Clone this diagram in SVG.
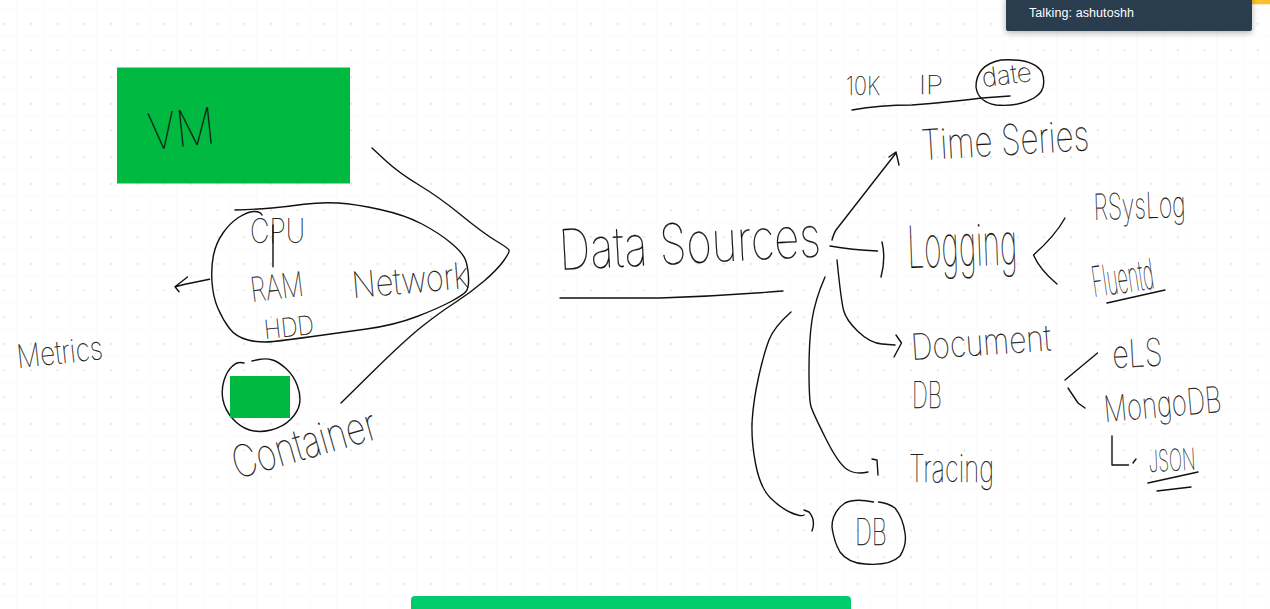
<svg xmlns="http://www.w3.org/2000/svg" width="1270" height="609" viewBox="0 0 1270 609">
<style>
.s{fill:none;stroke:#111;stroke-width:1.4;stroke-linecap:round;stroke-linejoin:round}
.h{font-family:"Inter","Lato","Liberation Sans",sans-serif;font-weight:100;fill:#111;stroke:#111;stroke-width:.25}
.g{fill:#00b941}
</style>
<defs>
<pattern id="dots" x="4.3" y="23.7" width="26.67" height="26.67" patternUnits="userSpaceOnUse">
<rect x="12" y="0" width=".8" height="26.67" fill="#fbfbfb"/>
<rect x="0" y="12" width="26.67" height=".8" fill="#fbfbfb"/>
<circle cx="0" cy="0" r="1" fill="#dedede"/><circle cx="26.67" cy="0" r="1" fill="#dedede"/><circle cx="0" cy="26.67" r="1" fill="#dedede"/><circle cx="26.67" cy="26.67" r="1" fill="#dedede"/>
</pattern>
<filter id="sh" x="-10%" y="-50%" width="120%" height="220%"><feDropShadow dx="0" dy="2" stdDeviation="3" flood-color="#000" flood-opacity=".3"/></filter>
</defs>
<rect width="1270" height="609" fill="#fff"/>
<rect width="1270" height="609" fill="url(#dots)"/>

<g id="connectors">
<path class="s" d="M372 148L385.5 160.5Q399 173 419 185Q439 197 461 215Q483 233 495.500 240.500Q508 248 509 250Q510 252 503.500 261Q497 270 483.500 281.500Q470 293 454.500 303Q439 313 422 326.500Q405 340 373 371.500L341 403"/>
<path class="s" d="M209.500 279.300L185 284.300L176 286.500M187.500 277L175 286.700L179 291.700"/>
<path class="s" d="M832 240Q834 233 836 230L896 153M889 157L896 152L899 165"/>
<path class="s" d="M830 246Q852 250 877.500 251M882 242Q886 258 881 277"/>
<path class="s" d="M837 260Q841 300 843.500 310Q846 320 858 331.500Q870 343 882 344L895 345M896 335L901.500 343L894 357"/>
<path class="s" d="M825 277Q815 300 812 320Q809 340 809 370Q809 400 811 406.500Q813 413 825.500 438Q838 463 846.500 469Q855 475 868 472M872 459L877 460L878 475"/>
<path class="s" d="M791 312Q774 327 769 340Q764 353 758.700 376.500Q753.500 400 752.200 420Q751 440 755.500 463.500Q760 487 770 497.500Q780.500 508 790.700 512.500Q801 517 804 515M804 510L809 512Q816 520 812 531"/>
<path class="s" d="M1065 218Q1055 236 1033.500 255Q1040 270 1057 284"/>
<path class="s" d="M1097.500 353L1065 380M1068 388L1078 403L1085 408"/>
<path class="s" d="M1112 436L1112 465L1128.500 465M1133 463L1136 459"/>
<path class="s" d="M560 298L660 298Q720 296 783 291"/>
<path class="s" d="M852 110Q880 105 912 105Q950 102 982 98L1010 96"/>
<path class="s" d="M1107 303L1165 290"/>
<path class="s" d="M1148 483L1198 472M1157 491L1191 487"/>
</g>

<g id="vm"><rect class="g" x="117" y="67.500" width="233" height="116"/>
<text class="h" font-size="50" transform="translate(150 150) rotate(-6)" textLength="67" lengthAdjust="spacingAndGlyphs">VM</text></g>

<g id="host"><path class="s" d="M235 210L246 209.600Q257 209.300 272 208Q287 206.700 304 204.300Q321 202 338 203Q355 204 380 209.500Q405 215 422 224Q439 233 451 243Q463 253 465.500 260Q468 267 468.500 277.500Q469 288 466 291.500Q463 295 451 301.500Q439 308 417 316.500Q395 325 366.500 329Q338 333 312.500 336.500Q287 340 273.500 341.500Q260 343 248 340Q236 337 229.500 328.500Q223 320 218 308.500Q213 297 212 282Q211 267 213.500 255Q216 243 223 233Q230 223 238.500 217.500Q247 212 253.500 211.500Q260 211 262 215"/>
<path class="s" d="M273 225L273 266.700"/>
<text class="h" font-size="34" x="250" y="243" textLength="55" lengthAdjust="spacingAndGlyphs">CPU</text>
<text class="h" font-size="34" transform="translate(252 302) rotate(-7)" textLength="53" lengthAdjust="spacingAndGlyphs">RAM</text>
<text class="h" font-size="36" transform="translate(353 298) rotate(-5)" textLength="117" lengthAdjust="spacingAndGlyphs">Network</text>
<text class="h" font-size="26" transform="translate(265 339) rotate(-6)" textLength="50" lengthAdjust="spacingAndGlyphs">HDD</text></g>

<g id="metrics"><text class="h" font-size="32" transform="translate(18 368) rotate(-6)" textLength="86" lengthAdjust="spacingAndGlyphs">Metrics</text></g>

<g id="container"><path class="s" d="M244 363Q237 361 232 366.500Q227 371 224 380.500Q221 390 223 400Q225 410 232.500 418.500Q240 427 249.500 430Q259 433 271 430Q283 427 290.500 419.500Q298 412 299.500 404Q301 396 297.500 386Q294 376 286.500 369Q279 362 272.500 360Q266 358 259 359.500L252 361"/>
<rect class="g" x="230" y="376" width="60" height="42"/>
<text class="h" font-size="44" transform="translate(237 479) rotate(-16)" textLength="148" lengthAdjust="spacingAndGlyphs">Container</text></g>

<g id="data-sources"><text class="h" font-size="56" transform="translate(560 270) rotate(-3)" textLength="262" lengthAdjust="spacingAndGlyphs">Data Sources</text></g>

<g id="time-series"><text class="h" font-size="26" x="846" y="95" textLength="34" lengthAdjust="spacingAndGlyphs">10K</text>
<text class="h" font-size="26" x="919" y="94" textLength="24" lengthAdjust="spacingAndGlyphs">IP</text>
<text class="h" font-size="26" transform="translate(983 87) rotate(-7)" textLength="50" lengthAdjust="spacingAndGlyphs">date</text>
<path class="s" d="M1001 60Q1033 58 1042 72Q1048 90 1034 98Q1018 107 996 105Q978 102 976 87Q976 65 1001 60"/>
<text class="h" font-size="42" transform="translate(922 160) rotate(-3.400)" textLength="168" lengthAdjust="spacingAndGlyphs">Time Series</text></g>

<g id="logging"><text class="h" font-size="58" transform="translate(908 268) rotate(-2)" textLength="110" lengthAdjust="spacingAndGlyphs">Logging</text>
<text class="h" font-size="36" transform="translate(1094 220) rotate(-2)" textLength="92" lengthAdjust="spacingAndGlyphs">RSysLog</text>
<text class="h" font-size="42" transform="translate(1094 297) rotate(-8)" textLength="62" lengthAdjust="spacingAndGlyphs">Fluentd</text></g>

<g id="document-db"><text class="h" font-size="36" transform="translate(912 360) rotate(-4)" textLength="140" lengthAdjust="spacingAndGlyphs">Document</text>
<text class="h" font-size="36" x="912" y="408" textLength="30" lengthAdjust="spacingAndGlyphs">DB</text>
<text class="h" font-size="38" transform="translate(1113 368) rotate(-3)" textLength="50" lengthAdjust="spacingAndGlyphs">eLS</text>
<text class="h" font-size="36" transform="translate(1105 422) rotate(-5)" textLength="118" lengthAdjust="spacingAndGlyphs">MongoDB</text>
<text class="h" font-size="30" transform="translate(1149 472) rotate(-3)" textLength="47" lengthAdjust="spacingAndGlyphs">JSON</text></g>

<g id="tracing"><text class="h" font-size="38" x="909" y="482" textLength="85" lengthAdjust="spacingAndGlyphs">Tracing</text></g>

<g id="db"><path class="s" d="M873.500 502Q855 498 845 503Q832 512 832 527Q834 542 840 552Q848 563 865 564Q890 566 900 556Q907 545 905 533Q903 518 895 508Q888 503 878.500 502"/>
<text class="h" font-size="36" x="855" y="545" textLength="32" lengthAdjust="spacingAndGlyphs">DB</text></g>

<g id="talking-popup"><rect x="1252" y="0" width="18" height="4.300" fill="#fbc02d"/>
<rect x="1006" y="-4" width="246" height="35" rx="2" fill="#2c3e50" filter="url(#sh)"/>
<text x="1029" y="16.500" font-family="Liberation Sans, sans-serif" font-size="12.500" fill="#fff" textLength="105">Talking: ashutoshh</text></g>

<g id="bottom-bar"><path d="M411 609V600Q411 596 415 596H847Q851 596 851 600V609Z" fill="#00cc6e"/></g>
</svg>
